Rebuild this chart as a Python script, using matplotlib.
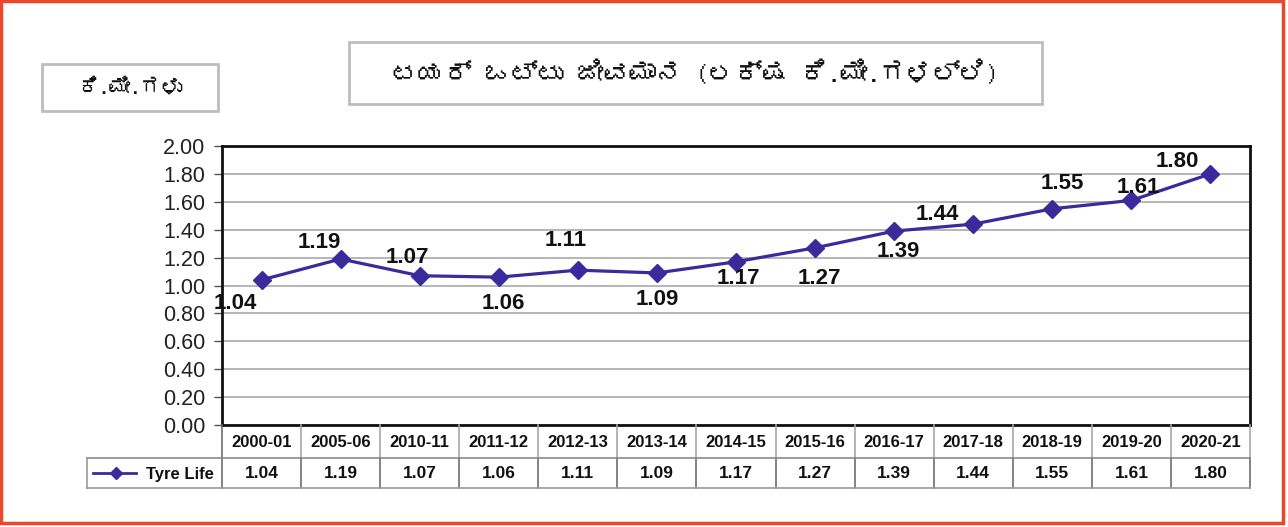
import matplotlib
matplotlib.use("Agg")
import matplotlib.pyplot as plt
from matplotlib import font_manager, ft2font
from matplotlib.patches import Rectangle
from matplotlib.lines import Line2D

# data
years = ["2000-01", "2005-06", "2010-11", "2011-12", "2012-13", "2013-14", "2014-15",
         "2015-16", "2016-17", "2017-18", "2018-19", "2019-20", "2020-21"]
tyre_life = [1.04, 1.19, 1.07, 1.06, 1.11, 1.09, 1.17, 1.27, 1.39, 1.44, 1.55, 1.61, 1.80]
series_name = "Tyre Life"
title_text = "ಟಯರ್ ಒಟ್ಟು ಜೀವಮಾನ (ಲಕ್ಷ ಕಿ.ಮೀ.ಗಳಲ್ಲಿ)"
unit_text = "ಕಿ.ಮೀ.ಗಳು"
yticks = [0.0, 0.2, 0.4, 0.6, 0.8, 1.0, 1.2, 1.4, 1.6, 1.8, 2.0]

# label offsets in points (dx, dy) for each data label
label_offsets = [(-19, -17), (-15, 12), (-9, 13), (3, -19), (-9, 21), (0, -19), (2, -12),
                 (3, -22), (3, -15), (-26, 7), (7, 18), (5, 9), (-24, 9)]

LINE_COLOR = "#3a2a9c"
BORDER = "#e8482c"


def find_font(ch):
    for f in font_manager.fontManager.ttflist:
        try:
            if ord(ch) in ft2font.FT2Font(f.fname).get_charmap():
                return f.name
        except Exception:
            pass
    return None


kn = find_font("ಟ")
kn_family = [kn, "DejaVu Sans"] if kn else ["DejaVu Sans"]
plt.rcParams["font.family"] = ["Liberation Sans", "DejaVu Sans"]

W, H = 1288, 527
fig = plt.figure(figsize=(W / 100, H / 100), dpi=100)


def px(x, y):
    return x / W, 1 - y / H


L, R, T, B = 222, 1250, 146, 425
ax = fig.add_axes([L / W, 1 - B / H, (R - L) / W, (B - T) / H])
x = list(range(len(years)))
ax.set_xlim(-0.5, len(years) - 0.5)
ax.set_ylim(0, 2.0)
ax.set_yticks(yticks)
ax.set_yticklabels([f"{v:.2f}" for v in yticks], fontsize=15.5, color="#222222")
ax.set_xticks([])
ax.tick_params(axis="y", length=6, width=1, color="#555555", pad=6)
ax.grid(axis="y", color="#b0b0b0", linewidth=1.3)
ax.set_axisbelow(True)
for s in ax.spines.values():
    s.set_linewidth(2)
    s.set_color("#111111")

ax.plot(x, tyre_life, color=LINE_COLOR, linewidth=2.3, marker="D", markersize=9,
        markerfacecolor=LINE_COLOR, markeredgecolor=LINE_COLOR, zorder=3)
for i, v in enumerate(tyre_life):
    dx, dy = label_offsets[i]
    ax.annotate(f"{v:.2f}", (i, v), xytext=(dx, dy), textcoords="offset points",
                ha="center", va="center", fontsize=16, fontweight="bold", color="#111111")

# data table under the axes
n = len(years)
colw = (R - L) / n
row1, row2, row3 = B, 458, 488
lines = []
for k in range(1, n + 1):
    xx = L + k * colw
    lines.append(((xx, row1), (xx, row2), "#a8a8a8"))
    lines.append(((xx, row2), (xx, row3), "#6e6e6e"))
lines.append(((L, row1), (L, row3), "#6e6e6e"))
lines.append(((87, row2), (R, row2), "#8a8a8a"))
lines.append(((87, row3), (R, row3), "#9a9a9a"))
lines.append(((87, row2), (87, row3), "#9a9a9a"))
for (x0, y0), (x1, y1), col in lines:
    a, b = px(x0, y0)
    c, d = px(x1, y1)
    fig.add_artist(Line2D([a, c], [b, d], color=col, linewidth=1.2))

for i, yr in enumerate(years):
    cx = L + (i + 0.5) * colw
    fig.text(*px(cx, (row1 + row2) / 2 + 1), yr, ha="center", va="center",
             fontsize=12, fontweight="bold", color="#111111")
    fig.text(*px(cx, (row2 + row3) / 2 + 1), f"{tyre_life[i]:.2f}", ha="center", va="center",
             fontsize=12.5, fontweight="bold", color="#111111")

# legend key in the row label cell
a, b = px(93, 473)
c, _ = px(136, 473)
fig.add_artist(Line2D([a, c], [b, b], color=LINE_COLOR, linewidth=2))
mx, my = px(116, 473)
fig.add_artist(Line2D([mx], [my], color=LINE_COLOR, marker="D", markersize=6))
fig.text(*px(180, 474), series_name, ha="center", va="center", fontsize=12,
         fontweight="bold", color="#111111")

# title box and unit box
for (x0, y0, x1, y1), txt, fs in [((349, 42, 1042, 104), title_text, 19),
                                  ((42, 64, 218, 111), unit_text, 15)]:
    fig.add_artist(Rectangle(px(x0, y1), (x1 - x0) / W, (y1 - y0) / H, transform=fig.transFigure,
                             facecolor="white", edgecolor="#bdbdbd", linewidth=2))
    fig.text(*px((x0 + x1) / 2, (y0 + y1) / 2), txt, ha="center", va="center",
             fontsize=fs, family=kn_family, color="#111111")

# outer orange frame
fig.add_artist(Rectangle((0.001, 0.008), 0.9955, 0.99, transform=fig.transFigure,
                         facecolor="none", edgecolor=BORDER, linewidth=2.5))

fig.savefig("out.png", dpi=100)
